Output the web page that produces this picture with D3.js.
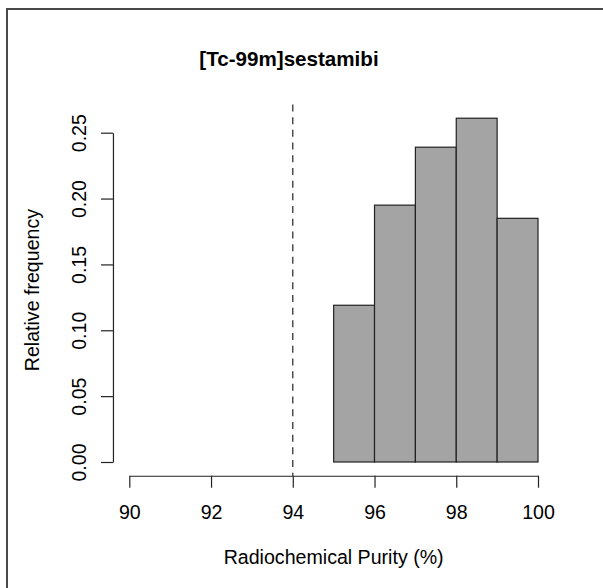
<!DOCTYPE html>
<html>
<head>
<meta charset="utf-8">
<script src="https://cdn.jsdelivr.net/npm/d3@7"></script>
<style>
  body { margin: 0; background: #fff; overflow: hidden; }
  text { font-family: "Liberation Sans", Arial, sans-serif; fill: #000; }
</style>
</head>
<body>
<div id="chart"></div>
<script>
// histogram data (relative frequency per 1% bin)
var breaks = [95, 96, 97, 98, 99, 100];
var density = [0.119, 0.195, 0.239, 0.261, 0.185];
var xTicks = [90, 92, 94, 96, 98, 100];
var yTicks = [0, 0.05, 0.10, 0.15, 0.20, 0.25];
var cutoff = 94;
var titleText = "[Tc-99m]sestamibi";
var xLabel = "Radiochemical Purity (%)";
var yLabel = "Relative frequency";

var width = 603, height = 588;

var svg = d3.select("#chart").append("svg")
  .attr("width", width)
  .attr("height", height)
  .style("display", "block");

// frame (only top/left visible, rest is cut off)
svg.append("rect")
  .attr("x", 7).attr("y", 9)
  .attr("width", 620).attr("height", 600)
  .style("fill", "none")
  .style("stroke", "#4a4a4a")
  .style("stroke-width", 2);

var x = d3.scaleLinear().domain([90, 100]).range([129.3, 538]);
var y = d3.scaleLinear().domain([0, 0.25]).range([462, 132.7]);

// plot region like R (4% extension)
var ymax = d3.max(density);
var plotBottom = y(0 - 0.04 * ymax);
var plotTop = y(ymax + 0.04 * ymax);
var plotLeft = x(90 - 0.04 * 10);

// bars
var bins = density.map(function(d, i) { return {x0: breaks[i], x1: breaks[i + 1], v: d}; });
svg.append("g").attr("id", "bars")
  .selectAll("rect")
  .data(bins)
  .enter()
  .append("rect")
    .attr("x", d => x(d.x0))
    .attr("y", d => y(d.v))
    .attr("width", d => x(d.x1) - x(d.x0))
    .attr("height", d => y(0) - y(d.v))
    .style("fill", "#a4a4a4")
    .style("stroke", "#222")
    .style("stroke-width", 1.2);

// cutoff line
svg.append("line")
  .attr("x1", x(cutoff)).attr("x2", x(cutoff))
  .attr("y1", plotTop).attr("y2", plotBottom)
  .style("stroke", "#333")
  .style("stroke-width", 1.3)
  .style("stroke-dasharray", "7,5.7");

// x axis
var xAxis = d3.axisBottom(x)
  .tickValues(xTicks)
  .tickSize(12)
  .tickSizeOuter(0)
  .tickFormat(d3.format("d"));

var gx = svg.append("g")
  .attr("transform", `translate(0, ${plotBottom})`)
  .call(xAxis);
gx.selectAll("path, line").style("stroke", "#222").style("stroke-width", 1.2);
gx.selectAll("text")
  .attr("y", 519 - plotBottom).attr("dy", null)
  .style("font-size", "19.6px")
  .style("fill", "#000");

// y axis
var yAxis = d3.axisLeft(y)
  .tickValues(yTicks)
  .tickSize(12)
  .tickSizeOuter(0)
  .tickFormat(d3.format(".2f"));

var gy = svg.append("g")
  .attr("transform", `translate(${plotLeft}, 0)`)
  .call(yAxis);
gy.selectAll("path, line").style("stroke", "#222").style("stroke-width", 1.2);
gy.selectAll(".tick text")
  .attr("x", null).attr("dy", null)
  .attr("text-anchor", "middle")
  .attr("transform", "translate(" + (86 - plotLeft) + ",0) rotate(-90)")
  .style("font-size", "19.6px")
  .style("fill", "#000");

// titles
svg.append("text")
  .attr("x", 289).attr("y", 66)
  .attr("text-anchor", "middle")
  .style("font-size", "20.6px")
  .style("font-weight", "bold")
  .text(titleText);

svg.append("text")
  .attr("x", (x(89.6) + x(100.4)) / 2).attr("y", 564)
  .attr("text-anchor", "middle")
  .style("font-size", "19.6px")
  .text(xLabel);

svg.append("text")
  .attr("transform", "translate(39," + ((plotTop + plotBottom) / 2) + ") rotate(-90)")
  .attr("text-anchor", "middle")
  .style("font-size", "19.6px")
  .text(yLabel);
</script>
</body>
</html>
